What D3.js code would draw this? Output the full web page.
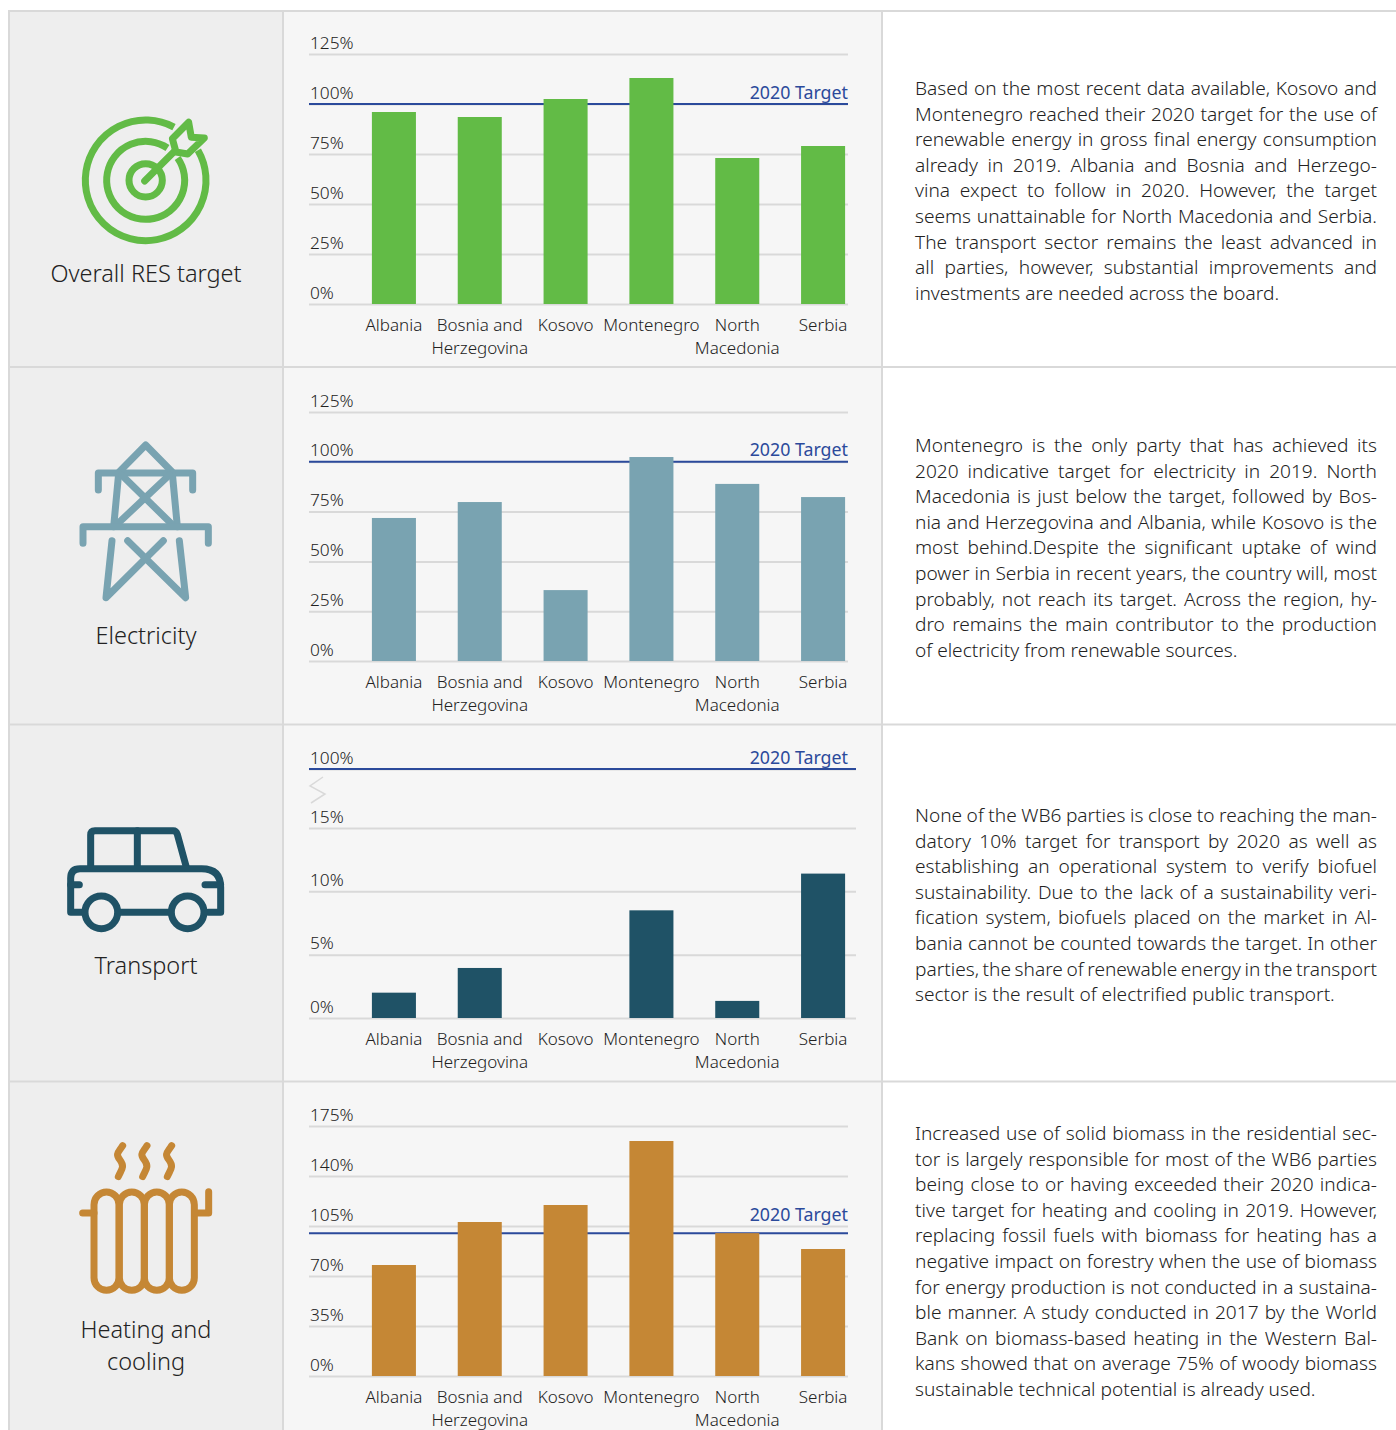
<!DOCTYPE html>
<html>
<head>
<meta charset="utf-8">
<script src="https://cdn.jsdelivr.net/npm/d3@7"></script>
<style>
  html, body { margin: 0; padding: 0; background: #fff; }
  svg { display: block; }
  text { font-family: "Noto Sans", "Open Sans", sans-serif; font-weight: 300; fill: #222; }
</style>
</head>
<body>
<div id="chart"></div>
<script>
const CATEGORIES = [
  ["Albania"],
  ["Bosnia and", "Herzegovina"],
  ["Kosovo"],
  ["Montenegro"],
  ["North", "Macedonia"],
  ["Serbia"],
];

const RES_VALUES = [96, 93.5, 102.5, 113, 73, 79];
const ELECTRICITY_VALUES = [71.8, 79.8, 35.6, 102.4, 88.9, 82.3];
const TRANSPORT_VALUES = [2, 3.95, 0, 8.5, 1.35, 11.4];
const HEATING_VALUES = [77.7, 107.8, 119.7, 164.5, 100, 88.9];

const RES_TICKS = [0, 25, 50, 75, 100, 125];
const TRANSPORT_TICKS = [0, 5, 10, 15, 100];
const HEATING_TICKS = [0, 35, 70, 105, 140, 175];

const RES_TEXT = [
  "Based on the most recent data available, Kosovo and",
  "Montenegro reached their 2020 target for the use of",
  "renewable energy in gross final energy consumption",
  "already in 2019. Albania and Bosnia and Herzego-",
  "vina expect to follow in 2020. However, the target",
  "seems unattainable for North Macedonia and Serbia.",
  "The transport sector remains the least advanced in",
  "all parties, however, substantial improvements and",
  "investments are needed across the board.",
];
const ELECTRICITY_TEXT = [
  "Montenegro is the only party that has achieved its",
  "2020 indicative target for electricity in 2019. North",
  "Macedonia is just below the target, followed by Bos-",
  "nia and Herzegovina and Albania, while Kosovo is the",
  "most behind.Despite the significant uptake of wind",
  "power in Serbia in recent years, the country will, most",
  "probably, not reach its target. Across the region, hy-",
  "dro remains the main contributor to the production",
  "of electricity from renewable sources.",
];
const TRANSPORT_TEXT = [
  "None of the WB6 parties is close to reaching the man-",
  "datory 10% target for transport by 2020 as well as",
  "establishing an operational system to verify biofuel",
  "sustainability. Due to the lack of a sustainability veri-",
  "fication system, biofuels placed on the market in Al-",
  "bania cannot be counted towards the target. In other",
  "parties, the share of renewable energy in the transport",
  "sector is the result of electrified public transport.",
];
const HEATING_TEXT = [
  "Increased use of solid biomass in the residential sec-",
  "tor is largely responsible for most of the WB6 parties",
  "being close to or having exceeded their 2020 indica-",
  "tive target for heating and cooling in 2019. However,",
  "replacing fossil fuels with biomass for heating has a",
  "negative impact on forestry when the use of biomass",
  "for energy production is not conducted in a sustaina-",
  "ble manner. A study conducted in 2017 by the World",
  "Bank on biomass-based heating in the Western Bal-",
  "kans showed that on average 75% of woody biomass",
  "sustainable technical potential is already used.",
];

const BORDER = "#d9d9d9";
const TARGET_BLUE = "#2b4a9b";

const width = 1396;
const height = 1430;
const colLeft = 9;
const colChart = 283;
const colText = 882;
const rowLines = [11, 367, 724.5, 1081.5];

const PANELS = [
  {
    title: ["Overall RES target"], titleY: [282], color: "#62bb46", icon: drawTarget,
    values: RES_VALUES, ticks: RES_TICKS, domain: [0, 125], range: [304, 54],
    target: 100, gridRight: 848, labelGap: 5, text: RES_TEXT, textY: 95,
  },
  {
    title: ["Electricity"], titleY: [644], color: "#79a3b1", icon: drawTower,
    values: ELECTRICITY_VALUES, ticks: RES_TICKS, domain: [0, 125], range: [661, 412],
    target: 100, gridRight: 848, labelGap: 5.5, text: ELECTRICITY_TEXT, textY: 452,
  },
  {
    title: ["Transport"], titleY: [974], color: "#1f5266", icon: drawCar,
    values: TRANSPORT_VALUES, ticks: TRANSPORT_TICKS, domain: [0, 15, 100], range: [1018, 828, 769],
    target: 100, gridRight: 856, labelGap: 5, text: TRANSPORT_TEXT, textY: 822, axisBreak: true,
  },
  {
    title: ["Heating and", "cooling"], titleY: [1338, 1370], color: "#c58735", icon: drawRadiator,
    values: HEATING_VALUES, ticks: HEATING_TICKS, domain: [0, 175], range: [1376, 1126],
    target: 100, gridRight: 848, labelGap: 12, text: HEATING_TEXT, textY: 1140,
  },
];

const svg = d3.select("#chart").append("svg")
  .attr("width", width)
  .attr("height", height)
  .attr("viewBox", `0 0 ${width} ${height}`);

// table backgrounds and rules
svg.append("rect").attr("x", colLeft).attr("y", rowLines[0])
  .attr("width", colChart - colLeft).attr("height", height).attr("fill", "#eeeeee");
svg.append("rect").attr("x", colChart).attr("y", rowLines[0])
  .attr("width", colText - colChart).attr("height", height).attr("fill", "#f6f6f6");

rowLines.forEach((y) => {
  svg.append("line").attr("x1", colLeft).attr("x2", width).attr("y1", y).attr("y2", y)
    .attr("stroke", BORDER).attr("stroke-width", 2);
});
[colLeft, colChart, colText].forEach((x) => {
  svg.append("line").attr("x1", x).attr("x2", x).attr("y1", rowLines[0] - 1).attr("y2", height)
    .attr("stroke", BORDER).attr("stroke-width", 2);
});

const xScale = d3.scaleBand()
  .domain(CATEGORIES.map((d) => d[0]))
  .range([351, 866])
  .paddingInner(0.487)
  .paddingOuter(0.2435);

PANELS.forEach((panel) => {
  const yScale = d3.scaleLinear().domain(panel.domain).range(panel.range);
  const g = svg.append("g");
  const axisLeftX = 309;

  // horizontal grid with labels sitting on top of each line
  const yAxis = g.append("g")
    .attr("transform", `translate(${axisLeftX},0)`)
    .call(d3.axisLeft(yScale)
      .tickValues(panel.ticks)
      .tickSize(-(panel.gridRight - axisLeftX))
      .tickFormat((d) => `${d}%`));
  yAxis.select(".domain").remove();
  yAxis.selectAll("line").attr("stroke", BORDER).attr("stroke-width", 2);
  yAxis.selectAll("text")
    .attr("x", 1)
    .attr("y", -6)
    .attr("dy", 0)
    .attr("text-anchor", "start")
    .attr("font-size", 17.3)
    .style("font-family", null);

  // target line sits behind the bars
  g.append("line")
    .attr("x1", axisLeftX).attr("x2", panel.gridRight)
    .attr("y1", yScale(panel.target)).attr("y2", yScale(panel.target))
    .attr("stroke", TARGET_BLUE).attr("stroke-width", 2);
  g.append("text")
    .attr("x", 848)
    .attr("y", yScale(panel.target) - panel.labelGap)
    .attr("text-anchor", "end")
    .attr("font-size", 17.8)
    .style("font-weight", 400)
    .style("fill", TARGET_BLUE)
    .text("2020 Target");

  g.selectAll("rect.bar")
    .data(panel.values)
    .join("rect")
    .attr("class", "bar")
    .attr("x", (d, i) => xScale(CATEGORIES[i][0]))
    .attr("width", xScale.bandwidth())
    .attr("y", (d) => yScale(d))
    .attr("height", (d) => yScale(0) - yScale(d))
    .attr("fill", panel.color);

  if (panel.axisBreak) {
    g.append("path")
      .attr("d", "M323,777 L310,786 L325,794 L311,803")
      .attr("fill", "none")
      .attr("stroke", BORDER)
      .attr("stroke-width", 1.5);
  }

  const xAxis = g.append("g")
    .attr("transform", `translate(0,${yScale(0)})`)
    .call(d3.axisBottom(xScale).tickSize(0));
  xAxis.select(".domain").remove();
  xAxis.selectAll("text")
    .attr("y", 0)
    .attr("dy", 0)
    .attr("font-size", 17)
    .each(function (name) {
      const lines = CATEGORIES.find((c) => c[0] === name);
      const label = d3.select(this).text(null);
      lines.forEach((line, i) => {
        label.append("tspan").attr("x", 0).attr("y", 27 + i * 22.5).text(line);
      });
    });

  // left column: icon + title
  panel.icon(g, panel.color);
  panel.title.forEach((line, i) => {
    g.append("text")
      .attr("x", 146)
      .attr("y", panel.titleY[i])
      .attr("text-anchor", "middle")
      .attr("font-size", 23.5)
      .text(line);
  });

  // right column: justified paragraph
  panel.text.forEach((line, i) => {
    const t = g.append("text")
      .attr("x", 915)
      .attr("y", panel.textY + i * 25.6)
      .attr("font-size", 19.1)
      .text(line);
    if (i < panel.text.length - 1) {
      const gaps = line.split(" ").length - 1;
      const spare = 462 - t.node().getComputedTextLength();
      t.style("word-spacing", `${spare / gaps}px`);
    }
  });
});

function iconGroup(g, x, y, color) {
  return g.append("g")
    .attr("transform", `translate(${x},${y}) scale(${1 / 3})`)
    .attr("fill", "none")
    .attr("stroke", color)
    .attr("stroke-width", 21)
    .attr("stroke-linecap", "round")
    .attr("stroke-linejoin", "round");
}

function drawTarget(g, color) {
  const icon = iconGroup(g, 0, 0, color);
  const center = [437, 541];
  const rad = (deg) => (deg * Math.PI) / 180;
  const ring = (r, from, to) => {
    const p = (a) => [center[0] + r * Math.sin(rad(a)), center[1] - r * Math.cos(rad(a))];
    const [x0, y0] = p(from);
    const [x1, y1] = p(to);
    return `M${x0},${y0} A${r},${r} 0 1 1 ${x1},${y1}`;
  };
  icon.append("path").attr("d", ring(181, 60, 28)).attr("stroke-linecap", "butt");
  icon.append("path").attr("d", ring(117, 55, 34)).attr("stroke-linecap", "butt");
  icon.append("circle").attr("cx", center[0]).attr("cy", center[1]).attr("r", 50);
  icon.append("path").attr("d", "M434,543 L525,452");
  icon.append("path").attr("d", "M566,367 L574,412 L613,414 L563,462 L528,456 L517,416 Z");
}

function drawTower(g, color) {
  const icon = iconGroup(g, 0, 420, color);
  icon.append("path").attr("d", "M358,155 L437,75 L516,155");
  icon.append("path").attr("d", "M295,210 V159 H578 V210");
  icon.append("path").attr("d", "M356,160 L341,320 M517,160 L532,320");
  icon.append("path").attr("d", "M365,165 L515,312 M508,165 L352,312");
  icon.append("path").attr("d", "M249,370 V320 H625 V370");
  icon.append("path").attr("d", "M336,362 L318,533 L490,362");
  icon.append("path").attr("d", "M383,362 L557,533 L538,362");
}

function drawCar(g, color) {
  const icon = iconGroup(g, 40, 800, color);
  icon.append("path").attr("d", "M152,205 V105 Q152,92 165,92 H400 Q408,92 412,103 L440,205");
  icon.append("path").attr("d", "M292,92 V205");
  icon.append("path").attr("d", "M125,337 H92 V235 Q92,206 120,206 H485 Q542,206 542,262 V337 H505");
  icon.append("path").attr("d", "M240,337 H385");
  icon.append("path").attr("d", "M92,254 H118 M495,254 H542");
  icon.append("circle").attr("cx", 184).attr("cy", 337).attr("r", 49);
  icon.append("circle").attr("cx", 443).attr("cy", 337).attr("r", 49);
}

function drawRadiator(g, color) {
  const icon = iconGroup(g, 40, 1120, color);
  [162, 238, 313, 388].forEach((x) => {
    const w = 75;
    icon.append("path").attr("d",
      `M${x},254 A${w / 2},38 0 0 1 ${x + w},254 V473 A${w / 2},38 0 0 1 ${x},473 Z`);
  });
  icon.append("path").attr("d", "M128,279 H162 M464,279 H506 V215");
  [0, 73, 147].forEach((dx) => {
    icon.append("path").attr("transform", `translate(${dx},0)`)
      .attr("d", "M248,77 C235,98 225,100 240,120 C255,140 245,148 235,170");
  });
}
</script>
</body>
</html>
